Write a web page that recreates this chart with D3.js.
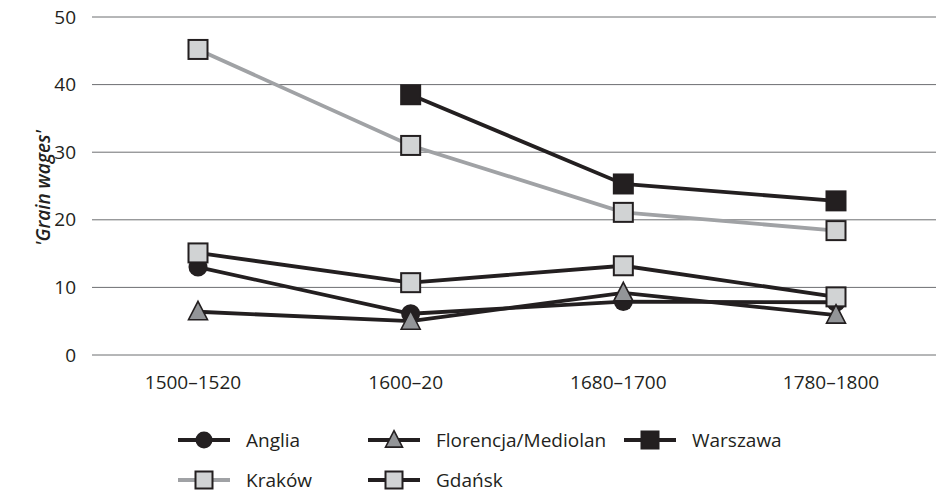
<!DOCTYPE html>
<html>
<head>
<meta charset="utf-8">
<script src="https://cdn.jsdelivr.net/npm/d3@7"></script>
<style>
  body { margin: 0; background: #fff; }
  text { font-family: "Open Sans", "Noto Sans", sans-serif; fill: #231f20; }
</style>
</head>
<body>
<svg id="chart" width="936" height="492"></svg>
<script>
// data
var periods = ["1500\u20131520", "1600\u201320", "1680\u20131700", "1780\u20131800"];
var anglia = [13.0, 6.1, 7.9, 7.8];
var florencja = [6.4, 5.0, 9.2, 5.9];
var warszawa = [null, 38.5, 25.3, 22.8];
var krakow = [45.2, 31.0, 21.1, 18.4];
var gdansk = [15.1, 10.7, 13.2, 8.6];
var yTicks = [0, 10, 20, 30, 40, 50];

var dark = "#231f20";

// drawing order: back to front
var series = [
  {name: "Kraków", values: krakow, line: "#a0a2a5", marker: "square", fill: "#d1d3d4"},
  {name: "Warszawa", values: warszawa, line: dark, marker: "square", fill: dark},
  {name: "Anglia", values: anglia, line: dark, marker: "circle", fill: dark},
  {name: "Gdańsk", values: gdansk, line: dark, marker: "square", fill: "#d1d3d4"},
  {name: "Florencja/Mediolan", values: florencja, line: dark, marker: "triangle", fill: "#939598"}
];

var svg = d3.select("#chart");

var x = d3.scalePoint()
  .domain(periods)
  .range([198, 836]);

var y = d3.scaleLinear()
  .domain([0, 50])
  .range([355, 17]);

// gridlines
svg.append("g")
  .selectAll("line")
  .data(yTicks)
  .enter()
  .append("line")
  .attr("x1", 92)
  .attr("x2", 936)
  .attr("y1", function(d) { return y(d); })
  .attr("y2", function(d) { return y(d); })
  .attr("stroke", "#6d6e71")
  .attr("stroke-width", 1);

// y tick labels
svg.append("g")
  .selectAll("text")
  .data(yTicks)
  .enter()
  .append("text")
  .attr("x", 76)
  .attr("y", function(d) { return y(d); })
  .attr("dy", "0.35em")
  .attr("text-anchor", "end")
  .style("font-size", "19px")
  .text(function(d) { return d; });

// x labels
svg.append("g")
  .selectAll("text")
  .data(periods)
  .enter()
  .append("text")
  .attr("x", function(d) { return x(d) - 5; })
  .attr("y", 389)
  .attr("text-anchor", "middle")
  .style("font-size", "19px")
  .text(function(d) { return d; });

// y axis title
svg.append("text")
  .attr("transform", "translate(50,188) rotate(-90)")
  .attr("text-anchor", "middle")
  .style("font-size", "19px")
  .style("font-style", "italic")
  .style("font-weight", "600")
  .text("'Grain wages'");

function drawMarker(sel, s, size) {
  if (s.marker === "square") {
    sel.append("rect")
      .attr("x", -size / 2).attr("y", -size / 2)
      .attr("width", size).attr("height", size)
      .attr("fill", s.fill).attr("stroke", dark).attr("stroke-width", 2);
  } else if (s.marker === "circle") {
    sel.append("circle")
      .attr("r", size / 2)
      .attr("fill", s.fill);
  } else {
    var h = size;
    sel.append("path")
      .attr("d", "M0," + (-h * 0.55) + "L" + (h / 2) + "," + (h * 0.42) + "L" + (-h / 2) + "," + (h * 0.42) + "Z")
      .attr("fill", s.fill).attr("stroke", dark).attr("stroke-width", 1.6);
  }
}

var line = d3.line()
  .defined(function(d) { return d.v != null; })
  .x(function(d) { return x(d.p); })
  .y(function(d) { return y(d.v); });

series.forEach(function(s) {
  var pts = periods.map(function(p, i) { return {p: p, v: s.values[i]}; });
  var g = svg.append("g");
  g.append("path")
    .attr("d", line(pts))
    .attr("fill", "none")
    .attr("stroke", s.line)
    .attr("stroke-width", 3.8);
  g.selectAll("g.m")
    .data(pts.filter(function(d) { return d.v != null; }))
    .enter()
    .append("g")
    .attr("class", "m")
    .attr("transform", function(d) { return "translate(" + x(d.p) + "," + y(d.v) + ")"; })
    .each(function() { drawMarker(d3.select(this), s, 19); });
});

// legend
var byName = {};
series.forEach(function(s) { byName[s.name] = s; });
var legendItems = [
  {s: byName["Anglia"], x: 178, y: 440},
  {s: byName["Florencja/Mediolan"], x: 368, y: 440},
  {s: byName["Warszawa"], x: 624, y: 440},
  {s: byName["Kraków"], x: 178, y: 480},
  {s: byName["Gdańsk"], x: 368, y: 480}
];

var lg = svg.append("g")
  .selectAll("g")
  .data(legendItems)
  .enter()
  .append("g")
  .attr("transform", function(d) { return "translate(" + d.x + "," + d.y + ")"; });

lg.append("line")
  .attr("x1", 0).attr("x2", 52)
  .attr("y1", 0).attr("y2", 0)
  .attr("stroke", function(d) { return d.s.line; })
  .attr("stroke-width", 3.8);

lg.append("g")
  .attr("transform", "translate(26,0)")
  .each(function(d) { drawMarker(d3.select(this), d.s, 17); });

lg.append("text")
  .attr("x", 68)
  .attr("dy", "0.35em")
  .style("font-size", "19px")
  .text(function(d) { return d.s.name; });
</script>
</body>
</html>
